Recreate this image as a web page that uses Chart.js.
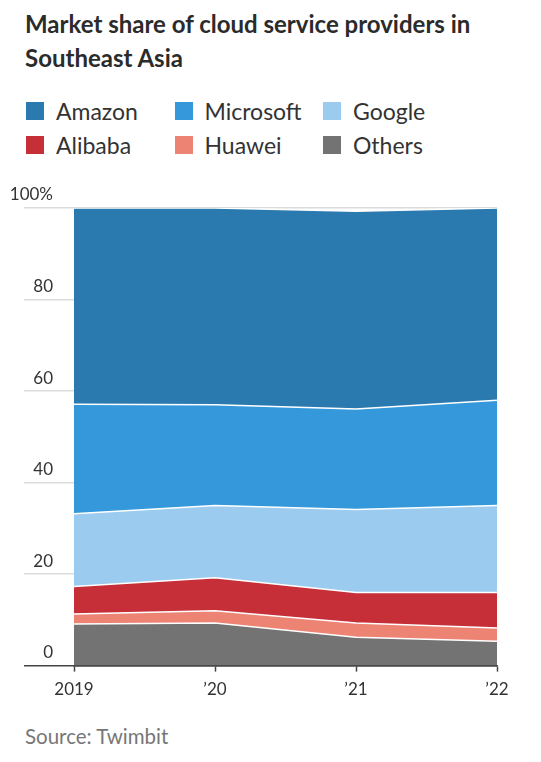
<!DOCTYPE html>
<html>
<head>
<meta charset="utf-8">
<script src="https://cdn.jsdelivr.net/npm/chart.js@4"></script>
<style>
  body { margin: 0; background: #fff; font-family: Lato, "Noto Sans", sans-serif; color: #333; }
  #wrap { position: relative; width: 541px; height: 762px; overflow: hidden; }
  h1 { position: absolute; left: 25px; top: 7px; width: 516px; margin: 0; font-size: 24px; line-height: 34px; font-weight: 700; color: #2b2b2b; white-space: nowrap; }
  .legend { position: absolute; left: 26px; top: 96px; }
  .item { position: absolute; white-space: nowrap; font-size: 23px; line-height: 30px; color: #333; }
  .item span { position: absolute; left: 0; top: 6px; width: 18px; height: 18px; }
  .item b { font-weight: 400; position: absolute; left: 30px; top: 0; }
  #source { position: absolute; left: 25px; top: 724px; font-size: 20.5px; color: #777; }
  #box { position: absolute; left: 0; top: 180px; width: 541px; height: 528px; }
</style>
</head>
<body>
<div id="wrap">
  <h1>Market share of cloud service providers in<br>Southeast Asia</h1>
  <div class="legend" id="legend"></div>
  <div id="box"><canvas id="chart" width="541" height="528"></canvas></div>
  <div id="source">Source: Twimbit</div>
</div>
<script>
// Chart data (percent share)
var years = ['2019', '\u201920', '\u201921', '\u201922'];
var others = [9.1, 9.3, 6.2, 5.3];
var huawei = [2.2, 2.7, 3.1, 2.9];
var alibaba = [6.0, 7.2, 6.7, 7.8];
var google = [15.9, 15.8, 18.1, 19.0];
var microsoft = [23.9, 22.0, 22.0, 23.0];
var amazon = [42.9, 43.0, 43.2, 42.0];
var yTicks = [0, 20, 40, 60, 80, 100];

// Colours
var colors = {
  Amazon: '#2a7ab0',
  Microsoft: '#3498db',
  Google: '#9bcbef',
  Alibaba: '#c62f37',
  Huawei: '#ec8373',
  Others: '#737373'
};

// Legend, in the reference order
var legendOrder = ['Amazon', 'Microsoft', 'Google', 'Alibaba', 'Huawei', 'Others'];
var legendEl = document.getElementById('legend');
legendOrder.forEach(function(name, i) {
  var col = i % 3;
  var row = Math.floor(i / 3);
  var div = document.createElement('div');
  div.className = 'item';
  div.style.left = (col * 148.5) + 'px';
  div.style.top = (row * 34) + 'px';
  div.innerHTML = '<span style="background:' + colors[name] + '"></span><b>' + name + '</b>';
  legendEl.appendChild(div);
});

// Stacked from the bottom up
var series = [
  { label: 'Others', data: others },
  { label: 'Huawei', data: huawei },
  { label: 'Alibaba', data: alibaba },
  { label: 'Google', data: google },
  { label: 'Microsoft', data: microsoft },
  { label: 'Amazon', data: amazon }
];

var datasets = series.map(function(s, i) {
  return {
    label: s.label,
    data: s.data,
    backgroundColor: colors[s.label],
    borderColor: '#ffffff',
    borderWidth: 1.5,
    pointRadius: 0,
    tension: 0,
    fill: i === 0 ? 'origin' : '-1'
  };
});

var ctx = document.getElementById('chart').getContext('2d');
new Chart(ctx, {
  type: 'line',
  data: { labels: years, datasets: datasets },
  options: {
    responsive: false,
    animation: false,
    layout: { padding: { left: 0, right: 44, top: 28, bottom: 0 } },
    plugins: { legend: { display: false }, tooltip: { enabled: false } },
    scales: {
      x: {
        offset: false,
        border: { display: true, color: '#444', width: 1.5 },
        grid: { drawOnChartArea: false, drawTicks: true, tickLength: 6, tickColor: '#444', tickWidth: 1.5 },
        ticks: {
          color: '#333',
          padding: 8,
          maxRotation: 0,
          font: { family: 'Lato', size: 17 }
        }
      },
      y: {
        stacked: true,
        min: 0,
        max: 100,
        afterBuildTicks: function(axis) {
          axis.ticks = yTicks.map(function(v) { return { value: v }; });
        },
        afterFit: function(axis) { axis.width = 74; },
        border: { display: false },
        grid: {
          drawTicks: true,
          tickLength: 50,
          lineWidth: 1.5,
          color: function(c) { return c.tick && c.tick.value === 0 ? '#444' : '#dcdcdc'; },
          tickColor: function(c) { return c.tick && c.tick.value === 0 ? '#444' : '#dcdcdc'; }
        },
        ticks: {
          color: '#333',
          padding: -29,
          labelOffset: -13,
          font: { family: 'Lato', size: 17 },
          callback: function(v) { return v === 100 ? '100%' : v; }
        }
      }
    }
  }
});
</script>
</body>
</html>
